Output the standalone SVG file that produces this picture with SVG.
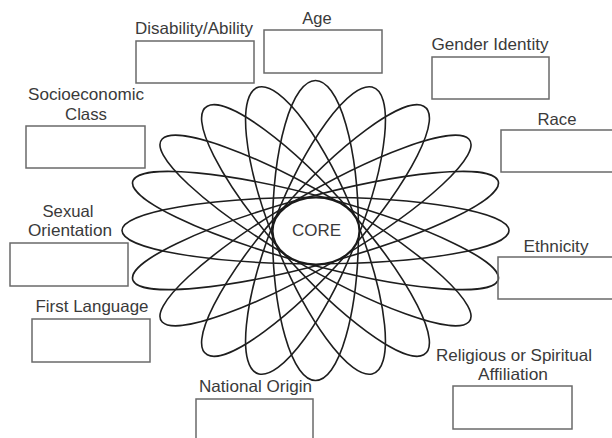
<svg xmlns="http://www.w3.org/2000/svg" width="612" height="438" viewBox="0 0 612 438">
<style>
.box{fill:none;stroke:#6a6a6a;stroke-width:1.5}
.lbl{font-family:"Liberation Sans",Arial,sans-serif;font-size:16.5px;fill:#3a3a3a;text-anchor:middle}
.petal{fill:none;stroke:#1e1e1e;stroke-width:1.6;vector-effect:non-scaling-stroke}
</style>
<rect width="612" height="438" fill="#ffffff"/>
<g id="flower" transform="translate(315.5,230.5) scale(1,0.775)">
<ellipse class="petal" rx="193.5" ry="43" transform="rotate(0)"/>
<ellipse class="petal" rx="193.5" ry="43" transform="rotate(19.5)"/>
<ellipse class="petal" rx="193.5" ry="43" transform="rotate(37.6)"/>
<ellipse class="petal" rx="193.5" ry="43" transform="rotate(56)"/>
<ellipse class="petal" rx="193.5" ry="43" transform="rotate(73)"/>
<ellipse class="petal" rx="193.5" ry="43" transform="rotate(90)"/>
<ellipse class="petal" rx="193.5" ry="43" transform="rotate(107)"/>
<ellipse class="petal" rx="193.5" ry="43" transform="rotate(124)"/>
<ellipse class="petal" rx="193.5" ry="43" transform="rotate(142.4)"/>
<ellipse class="petal" rx="193.5" ry="43" transform="rotate(160.5)"/>
</g>
<g id="core">
<ellipse cx="316" cy="231" rx="43.5" ry="33.5" fill="#ffffff" stroke="#1a1a1a" stroke-width="2.2"/>
<text class="lbl" x="316.5" y="236" textLength="49" lengthAdjust="spacingAndGlyphs">CORE</text>
</g>
<g id="disability">
<text class="lbl" x="194" y="34" textLength="118" lengthAdjust="spacingAndGlyphs">Disability/Ability</text>
<rect class="box" x="136" y="41" width="118" height="42"/>
</g>
<g id="age">
<text class="lbl" x="317" y="24">Age</text>
<rect class="box" x="264" y="30" width="118" height="43"/>
</g>
<g id="gender">
<text class="lbl" x="490" y="50" textLength="117" lengthAdjust="spacingAndGlyphs">Gender Identity</text>
<rect class="box" x="432" y="57" width="117" height="42"/>
</g>
<g id="race">
<text class="lbl" x="557" y="125" textLength="39" lengthAdjust="spacingAndGlyphs">Race</text>
<rect class="box" x="501" y="130" width="120" height="42"/>
</g>
<g id="socioeconomic">
<text class="lbl" x="86" y="100" textLength="116" lengthAdjust="spacingAndGlyphs">Socioeconomic</text>
<text class="lbl" x="86" y="120" textLength="42" lengthAdjust="spacingAndGlyphs">Class</text>
<rect class="box" x="26" y="126" width="119" height="42"/>
</g>
<g id="sexual">
<text class="lbl" x="68" y="217" textLength="51" lengthAdjust="spacingAndGlyphs">Sexual</text>
<text class="lbl" x="70" y="236" textLength="84" lengthAdjust="spacingAndGlyphs">Orientation</text>
<rect class="box" x="10" y="243" width="118" height="43"/>
</g>
<g id="language">
<text class="lbl" x="92" y="312" textLength="113" lengthAdjust="spacingAndGlyphs">First Language</text>
<rect class="box" x="32" y="319" width="118" height="43"/>
</g>
<g id="national">
<text class="lbl" x="255.5" y="392" textLength="113" lengthAdjust="spacingAndGlyphs">National Origin</text>
<rect class="box" x="196" y="399" width="117" height="48"/>
</g>
<g id="ethnicity">
<text class="lbl" x="556" y="252" textLength="65" lengthAdjust="spacingAndGlyphs">Ethnicity</text>
<rect class="box" x="498" y="257" width="123" height="42"/>
</g>
<g id="religious">
<text class="lbl" x="514" y="361" textLength="156" lengthAdjust="spacingAndGlyphs">Religious or Spiritual</text>
<text class="lbl" x="513" y="380" textLength="70" lengthAdjust="spacingAndGlyphs">Affiliation</text>
<rect class="box" x="453" y="386" width="119" height="43"/>
</g>
<g id="connectors"/>
</svg>
